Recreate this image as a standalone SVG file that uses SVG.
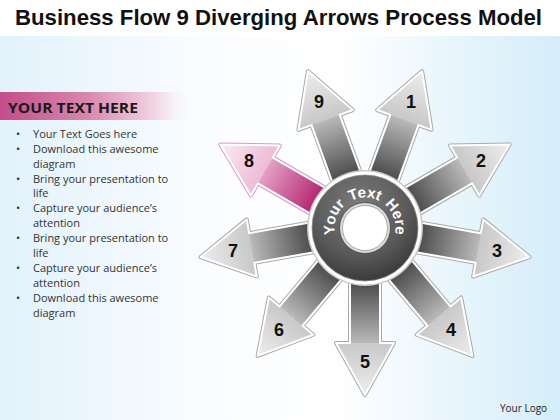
<svg xmlns="http://www.w3.org/2000/svg" xmlns:xlink="http://www.w3.org/1999/xlink" width="560" height="420" viewBox="0 0 560 420">
<defs>
<style>
.title{font-family:"Liberation Sans",Arial,sans-serif;font-weight:bold;font-size:22px;fill:#111}
.hdr{font-family:"Open Sans","Liberation Sans",sans-serif;font-weight:bold;font-size:15px;fill:#1a1a1a}
.bul{font-family:"Open Sans","Liberation Sans",sans-serif;font-size:11px;fill:#333}
.num{font-family:"Liberation Sans",Arial,sans-serif;font-weight:bold;font-size:18px;fill:#111;text-anchor:middle}
.ring{font-family:"Liberation Sans",Arial,sans-serif;font-weight:bold;font-size:15px;fill:#fff;word-spacing:2px}
.logo{font-family:"Open Sans","Liberation Sans",sans-serif;font-size:10px;fill:#222}
.aout{fill:none;stroke:#a9a9a9;stroke-width:4;stroke-linejoin:round}
.ain{stroke:#ffffff;stroke-width:2;stroke-linejoin:round}
.gray{fill:url(#gGray)}
.pink{fill:url(#gPink)}
</style>
<linearGradient id="bg" x1="0" y1="0" x2="1" y2="0">
<stop offset="0" stop-color="#e2f2fb"/>
<stop offset="0.35" stop-color="#f9fcff"/>
<stop offset="0.6" stop-color="#ffffff"/>
<stop offset="1" stop-color="#d4edf9"/>
</linearGradient>
<linearGradient id="band" x1="0" y1="0" x2="1" y2="0">
<stop offset="0" stop-color="#c24e88"/>
<stop offset="0.45" stop-color="#d987b0"/>
<stop offset="0.8" stop-color="#f2d6e4"/>
<stop offset="1" stop-color="#ffffff" stop-opacity="0"/>
</linearGradient>
<linearGradient id="gGray" gradientUnits="userSpaceOnUse" x1="30" y1="0" x2="167" y2="0">
<stop offset="0" stop-color="#3c3c3c"/>
<stop offset="0.2" stop-color="#505050"/>
<stop offset="0.62" stop-color="#b9b9b9"/>
<stop offset="0.62" stop-color="#c8c8c8"/>
<stop offset="1" stop-color="#ededed"/>
</linearGradient>
<linearGradient id="gPink" gradientUnits="userSpaceOnUse" x1="30" y1="0" x2="167" y2="0">
<stop offset="0" stop-color="#9c1a5c"/>
<stop offset="0.2" stop-color="#b72a76"/>
<stop offset="0.62" stop-color="#e3a0c4"/>
<stop offset="0.62" stop-color="#eebbd6"/>
<stop offset="1" stop-color="#fbe9f3"/>
</linearGradient>
<radialGradient id="gRing" cx="0.45" cy="0.3" r="0.75">
<stop offset="0" stop-color="#7c7c7c"/>
<stop offset="0.6" stop-color="#5a5a5a"/>
<stop offset="1" stop-color="#353535"/>
</radialGradient>
<path id="arrow" d="M30,-15 L115,-15 L115,-29 L167,0 L115,29 L115,15 L30,15 Z"/>
<path id="ringPath" d="M365,258.5 A30.5,30.5 0 1 1 365,197.5 A30.5,30.5 0 1 1 365,258.5"/>
</defs>

<rect x="0" y="0" width="560" height="420" fill="url(#bg)"/>
<rect x="0" y="0" width="560" height="36" fill="#ffffff"/>
<text class="title" x="15" y="25" textLength="527" lengthAdjust="spacingAndGlyphs">Business Flow 9 Diverging Arrows Process Model</text>

<g id="text-panel">
<rect x="0" y="92" width="195" height="28" fill="url(#band)"/>
<text class="hdr" x="8" y="113" textLength="130" lengthAdjust="spacingAndGlyphs">YOUR TEXT HERE</text>
<g class="bul">
<text x="16" y="138">•</text><text x="33" y="138">Your Text Goes here</text>
<text x="16" y="153">•</text><text x="33" y="153">Download this awesome</text>
<text x="33" y="168">diagram</text>
<text x="16" y="183">•</text><text x="33" y="183">Bring your presentation to</text>
<text x="33" y="197">life</text>
<text x="16" y="212">•</text><text x="33" y="212">Capture your audience’s</text>
<text x="33" y="227">attention</text>
<text x="16" y="242">•</text><text x="33" y="242">Bring your presentation to</text>
<text x="33" y="257">life</text>
<text x="16" y="272">•</text><text x="33" y="272">Capture your audience’s</text>
<text x="33" y="287">attention</text>
<text x="16" y="302">•</text><text x="33" y="302">Download this awesome</text>
<text x="33" y="317">diagram</text>
</g>
</g>

<g id="arrow-1" transform="translate(365,228) rotate(-70)"><use xlink:href="#arrow" class="aout"/><use xlink:href="#arrow" class="ain gray"/></g>
<g id="arrow-2" transform="translate(365,228) rotate(-30)"><use xlink:href="#arrow" class="aout"/><use xlink:href="#arrow" class="ain gray"/></g>
<g id="arrow-3" transform="translate(365,228) rotate(10)"><use xlink:href="#arrow" class="aout"/><use xlink:href="#arrow" class="ain gray"/></g>
<g id="arrow-4" transform="translate(365,228) rotate(50)"><use xlink:href="#arrow" class="aout"/><use xlink:href="#arrow" class="ain gray"/></g>
<g id="arrow-5" transform="translate(365,228) rotate(90)"><use xlink:href="#arrow" class="aout"/><use xlink:href="#arrow" class="ain gray"/></g>
<g id="arrow-6" transform="translate(365,228) rotate(130)"><use xlink:href="#arrow" class="aout"/><use xlink:href="#arrow" class="ain gray"/></g>
<g id="arrow-7" transform="translate(365,228) rotate(170)"><use xlink:href="#arrow" class="aout"/><use xlink:href="#arrow" class="ain gray"/></g>
<g id="arrow-8" transform="translate(365,228) rotate(-150)"><use xlink:href="#arrow" class="aout" style="stroke:#d79cbc"/><use xlink:href="#arrow" class="ain pink"/></g>
<g id="arrow-9" transform="translate(365,228) rotate(-110)"><use xlink:href="#arrow" class="aout"/><use xlink:href="#arrow" class="ain gray"/></g>

<g id="labels">
<text class="num" x="411" y="108">1</text>
<text class="num" x="481" y="167">2</text>
<text class="num" x="497" y="257">3</text>
<text class="num" x="451" y="336">4</text>
<text class="num" x="365" y="368">5</text>
<text class="num" x="279" y="336">6</text>
<text class="num" x="233" y="257">7</text>
<text class="num" x="249" y="167">8</text>
<text class="num" x="319" y="108">9</text>
</g>

<g id="hub">
<circle cx="365" cy="228" r="58" fill="#c9c9c9"/>
<circle cx="365" cy="228" r="56.5" fill="#ffffff"/>
<circle cx="365" cy="228" r="53" fill="url(#gRing)" stroke="#8a8a8a" stroke-width="0.8"/>
<circle cx="365" cy="228" r="25.5" fill="#d9d9d9" stroke="#444" stroke-width="0.8"/>
<circle cx="365" cy="228" r="22.5" fill="#ffffff" stroke="#9a9a9a" stroke-width="0.8"/>
<text class="ring" text-anchor="middle"><textPath xlink:href="#ringPath" startOffset="50%">Your Text Here</textPath></text>
</g>

<text class="logo" x="500" y="412">Your Logo</text>
</svg>
